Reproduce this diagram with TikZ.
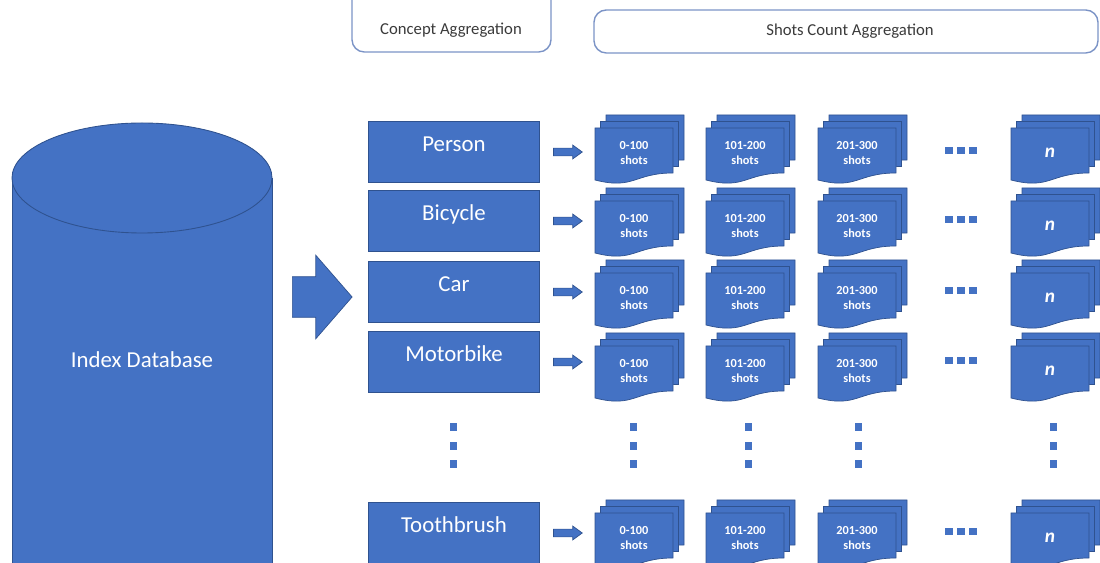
\documentclass[tikz,border=0pt]{standalone}
\usepackage{fontspec}
\setmainfont{Carlito}
\usepackage{xcolor}
\usetikzlibrary{shapes.arrows,positioning,calc}

\definecolor{officeblue}{HTML}{4472C4}
\definecolor{edgeblue}{HTML}{2F528F}
\definecolor{frameblue}{HTML}{7B93C6}
\definecolor{headgray}{HTML}{3A3A3A}

% one stack of three pages: name, left x, top y, label
\newcommand{\docstack}[4]{%
  \foreach \k in {2,1,0} {
    \filldraw[docpage, shift={(#2+5.5*\k,#3-6.5*\k)}] (0,0) -- (78,0) -- (78,45)
      .. controls (39,45) and (39,62) .. (0,52) -- cycle;
  }
  \node[doclabel] (#1) at (#2+39,#3+25) {#4};
}

\begin{document}
\begin{tikzpicture}[x=0.02cm, y=-0.02cm,
    concept/.style={draw=edgeblue, fill=officeblue, line width=0.5pt, inner sep=0pt,
      minimum width=97.5pt, minimum height=35.2pt, text=white,
      font=\fontsize{13}{15}\selectfont, text height=9pt, text depth=9pt},
    docpage/.style={fill=officeblue, draw=edgeblue, line width=0.4pt},
    doclabel/.style={text=white, align=center, inner sep=0pt,
      font=\bfseries\fontsize{7}{8.6}\selectfont},
    smallarrow/.style={single arrow, fill=officeblue, draw=edgeblue, line width=0.4pt,
      inner xsep=0pt, inner ysep=2pt, minimum height=16.4pt,
      single arrow head extend=1.7pt, single arrow tip angle=72},
    bigarrow/.style={single arrow, fill=officeblue, draw=edgeblue, line width=0.4pt,
      inner xsep=0pt, inner ysep=11.35pt, minimum height=34pt,
      single arrow head extend=12.2pt, single arrow tip angle=98},
    frame/.style={draw=frameblue, line width=0.8pt},
    headtext/.style={text=headgray, font=\fontsize{9.5}{11}\selectfont},
    dotblue/.style={fill=officeblue}]
    \useasboundingbox (0,0) rectangle (1100,563);
    \clip (0,0) rectangle (1100,563);

    % headers
    \draw[frame, rounded corners=7pt] (352,-10) -- (352,52) -- (551,52) -- (551,-10);
    \node[headtext] (conceptagg) at (451,30) {Concept Aggregation};
    \draw[frame, rounded corners=7pt] (594,10) rectangle (1098,53);
    \node[headtext] (shotsagg) at (850,31) {Shots Count Aggregation};

    % database
    \fill[officeblue] (12,178) rectangle (272,600);
    \draw[edgeblue, line width=0.5pt] (12,178) -- (12,600) (272,178) -- (272,600);
    \filldraw[fill=officeblue, draw=edgeblue, line width=0.5pt] (142,178) ellipse [x radius=130, y radius=55];
    \node[text=white, font=\fontsize{13}{15}\selectfont] (db) at (142,360) {Index Database};

    \node[bigarrow, anchor=tail] (feed) at (292,297) {};

    % concept rows
    \foreach \lbl/\by/\dy [count=\r] in {Person/152/128, Bicycle/221/201, Car/292/273,
        Motorbike/362/346, Toothbrush/533/513} {
      \node[concept] (c\r) at (454,\by) {\lbl};
      \node[smallarrow, anchor=tail, right=7.4pt of c\r] (a\r) {};
      \docstack{d\r-1}{595}{\dy}{0-100\\shots}
      \docstack{d\r-2}{706}{\dy}{101-200\\shots}
      \docstack{d\r-3}{818}{\dy}{201-300\\shots}
      \docstack{d\r-4}{1011}{\dy}{{\fontsize{11}{12}\selectfont\itshape n}}
      \foreach \dx in {0,12,24}
        \fill[dotblue] (945+\dx,\by-4.5) rectangle ++(8,7);
    }

    % vertical dots
    \foreach \vx in {453,633,748,858,1053}
      \foreach \vy in {427,446,464}
        \fill[dotblue] (\vx-3.5,\vy-4) rectangle ++(7,8);
\end{tikzpicture}
\end{document}
